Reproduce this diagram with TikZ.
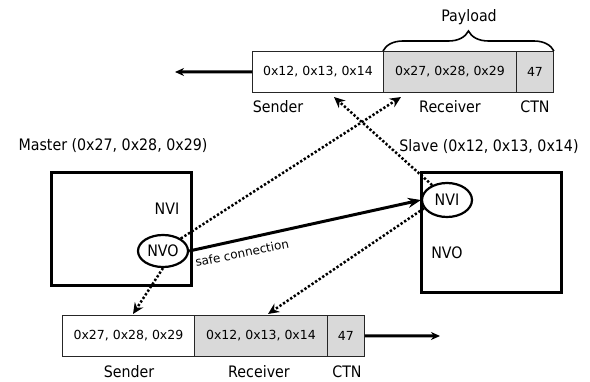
\documentclass[tikz,border=0pt]{standalone}
\usepackage{fontspec}
\setmainfont{DejaVu Sans}
\newfontfamily\labfont[FakeStretch=0.9]{DejaVu Sans}
\usetikzlibrary{arrows.meta,shapes.geometric,decorations.pathreplacing}
\definecolor{cellgray}{HTML}{D9D9D9}
\tikzset{
  lbl/.style={font=\labfont\fontsize{15.8}{18}\selectfont, inner sep=0pt},
  cell/.style={draw=black!85, line width=0.9pt, font=\fontsize{12.5}{14}\selectfont,
    minimum height=41pt, inner sep=0pt, anchor=north west},
  gcell/.style={cell, fill=cellgray},
  devbox/.style={draw, line width=3pt, anchor=north west, inner sep=0pt},
  port/.style={draw, ellipse, line width=2.2pt, inner sep=0pt,
    font=\labfont\fontsize{15.8}{18}\selectfont},
  dotarrow/.style={line width=2.5pt, dash pattern=on 2.3pt off 2pt,
    -{Stealth[length=11pt,width=10pt]}},
  safearrow/.style={line width=3pt, -{Stealth[length=13pt,width=10pt]}},
  outarrow/.style={line width=3pt, -{Stealth[length=9pt,width=8pt]}},
  bracestyle/.style={line width=1.6pt, decorate,
    decoration={brace, amplitude=20pt}}
}
\begin{document}
\begin{tikzpicture}[x=1pt, y=-1pt]
\useasboundingbox (0,0) rectangle (590,382);

% top packet
\node[cell, minimum width=131pt] (ts) at (252,51) {0x12, 0x13, 0x14};
\node[gcell, minimum width=133pt] (tr) at (383,51) {0x27, 0x28, 0x29};
\node[gcell, minimum width=37pt] (tc) at (516,51) {47};
\coordinate (tl) at (175,72);
\draw[outarrow] (ts.west) -- (tl);
\draw[bracestyle] (tr.north west) -- (tc.north east);
\node[lbl] (payload) at (469,17) {Payload};
\node[lbl] (tsl) at (278,107) {Sender};
\node[lbl] (trl) at (450,107) {Receiver};
\node[lbl] (tcl) at (535,107) {CTN};

% master
\node[lbl] (mlabel) at (113,146) {Master (0x27, 0x28, 0x29)};
\node[devbox, minimum width=140pt, minimum height=113pt] (mbox) at (50,171) {};
\node[lbl] (mnvi) at (167,209) {NVI};
\node[port, minimum width=50pt, minimum height=32pt] (nvo) at (163,251) {NVO};

% slave
\node[lbl] (slabel) at (489,147) {Slave (0x12, 0x13, 0x14)};
\node[devbox, minimum width=140pt, minimum height=120pt] (sbox) at (420,171) {};
\node[port, minimum width=50pt, minimum height=34pt] (nvi) at (447,200) {NVI};
\node[lbl] (snvo) at (447,253) {NVO};

% bottom packet
\node[cell, minimum width=132pt] (bs) at (62,315) {0x27, 0x28, 0x29};
\node[gcell, minimum width=133pt] (br) at (194,315) {0x12, 0x13, 0x14};
\node[gcell, minimum width=37pt] (bc) at (327,315) {47};
\coordinate (bend) at (440,336);
\draw[outarrow] (bc.east) -- (bend);
\node[lbl] (bsl) at (129,372) {Sender};
\node[lbl] (brl) at (259,372) {Receiver};
\node[lbl] (bcl) at (347,372) {CTN};

% connections
\draw[safearrow] (nvo.east) -- (nvi.west);
\node[font=\fontsize{12}{14}\selectfont, rotate=11.5, inner sep=0pt] (safe) at (242,253) {safe connection};

\coordinate (ta) at (401,97);
\coordinate (tb) at (334,97);
\coordinate (ba) at (133,314);
\coordinate (bb) at (268,314);
\draw[dotarrow] (nvo.35) -- (ta);
\draw[dotarrow] (nvi.135) -- (tb);
\draw[dotarrow] (nvi.200) -- (bb);
\draw[dotarrow] (nvo.south) -- (ba);
\end{tikzpicture}
\end{document}
